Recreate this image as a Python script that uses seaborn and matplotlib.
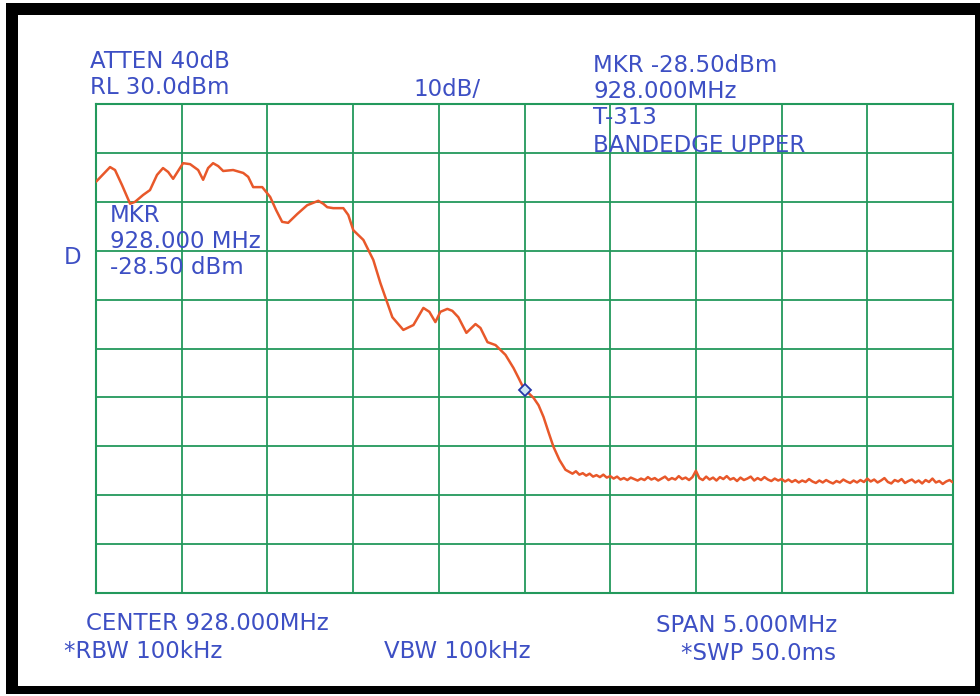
import numpy as np
import seaborn as sns
import matplotlib.pyplot as plt
from matplotlib.patches import Rectangle

# Spectrum analyzer plot: bandedge upper, T-313

# trace (MHz, dBm) - passband and skirt
trace_freq = [925.500, 925.582, 925.611, 925.652, 925.699, 925.728, 925.775, 925.815,
              925.856, 925.891, 925.921, 925.950, 925.979, 926.008, 926.049, 926.096,
              926.125, 926.154, 926.183, 926.213, 926.242, 926.300, 926.359, 926.388,
              926.417, 926.470, 926.516, 926.551, 926.586, 926.621, 926.674, 926.732,
              926.797, 926.826, 926.849, 926.884, 926.943, 926.972, 927.001, 927.060,
              927.118, 927.159, 927.200, 927.229, 927.293, 927.352, 927.410, 927.445,
              927.480, 927.509, 927.550, 927.579, 927.614, 927.661, 927.714, 927.743,
              927.784, 927.831, 927.889, 927.936, 927.965, 928.000, 928.023, 928.053,
              928.082, 928.111, 928.140, 928.169, 928.204, 928.239]
trace_dbm = [14.1, 17.1, 16.5, 13.4, 9.6, 10.0, 11.4, 12.4,
             15.5, 16.9, 16.1, 14.7, 16.3, 17.9, 17.7, 16.5,
             14.5, 16.9, 17.9, 17.3, 16.3, 16.5, 15.9, 15.1,
             13.0, 13.0, 11.0, 8.3, 5.9, 5.7, 7.5, 9.3,
             10.2, 9.6, 8.9, 8.7, 8.7, 7.3, 4.2, 2.2,
             -1.9, -6.6, -10.7, -13.6, -16.2, -15.2, -11.7, -12.5,
             -14.6, -12.5, -11.9, -12.3, -13.6, -16.8, -15.0, -15.8,
             -18.7, -19.3, -21.3, -24.0, -26.0, -28.5, -29.1, -30.1,
             -31.6, -34.0, -37.1, -40.1, -42.8, -44.8]

# noise floor, one reading every 0.02 MHz from 928.26 to 930.50
floor_start = 928.26
floor_step = 0.02
floor_dbm = [-45.2, -45.6, -45.1, -45.8, -45.5, -46.0, -45.6, -46.2, -45.9, -46.3, -45.8, -46.4, -46.1,
             -46.6, -46.2, -46.8, -46.5, -46.9, -46.4, -46.7, -47.0, -46.6, -46.9, -46.3, -46.8,
             -46.5, -47.0, -46.6, -46.2, -46.9, -46.5, -46.8, -46.1, -46.7, -46.4, -46.9, -46.3,
             -45.0,
             -46.5, -46.9, -46.2, -46.8, -46.4, -47.0, -46.3, -46.7, -46.1, -46.8, -46.5, -47.1,
             -46.4, -46.9, -46.6, -46.2, -47.0, -46.5, -46.9, -46.3, -46.8, -47.1, -46.6, -47.0, -46.7,
             -47.2, -46.8, -47.3, -46.9, -47.4, -47.0, -47.3, -46.7, -47.2, -47.5, -47.0, -47.4,
             -46.9, -47.3, -47.6, -47.1, -47.4, -46.8, -47.2, -47.5, -47.0, -47.4, -46.9, -47.3, -46.6,
             -47.2, -46.8, -47.4, -47.0, -46.5, -47.3, -47.6, -46.9, -47.2, -46.7, -47.5, -47.1,
             -46.8, -47.4, -47.0, -47.6, -46.9, -47.3, -46.6, -47.4, -47.1, -47.7, -47.2, -46.9, -47.4]

marker_freq = 928.000
marker_dbm = -28.50

center = 928.0
span = 5.0
ref_level = 30.0
db_per_div = 10.0

freq = trace_freq + [round(floor_start + i * floor_step, 3) for i in range(len(floor_dbm))]
level = trace_dbm + floor_dbm

GREEN = '#23995c'
TRACE = '#e8582a'
BLUE = '#3d4fc4'

sns.set_style("white")
plt.rcParams['font.family'] = ['DejaVu Sans']

fig = plt.figure(figsize=(9.8, 6.96), dpi=100)
W, H = 980.0, 696.0

# black frame of the scanned page
fig.add_artist(Rectangle((6 / W, 2 / H), 974 / W, 691 / H, transform=fig.transFigure,
                         facecolor='black', edgecolor='none', zorder=-3))
fig.add_artist(Rectangle((18 / W, 10 / H), 957 / W, 671 / H, transform=fig.transFigure,
                         facecolor='white', edgecolor='none', zorder=-2))

ax = fig.add_axes([96 / W, 103 / H, 857 / W, 489 / H])
ax.set_facecolor('white')

sns.lineplot(x=freq, y=level, ax=ax, color=TRACE, linewidth=1.8, sort=False,
             estimator=None, zorder=3)
ax.plot([marker_freq], [marker_dbm], marker='D', markersize=6, markerfacecolor='#cfe8f5',
        markeredgecolor='#2637a8', markeredgewidth=1.3, linestyle='none', zorder=4)

ax.set_xlim(center - span / 2, center + span / 2)
ax.set_ylim(ref_level - 10 * db_per_div, ref_level)
ax.set_xticks(np.arange(center - span / 2, center + span / 2 + 0.01, span / 10))
ax.set_yticks(np.arange(ref_level - 10 * db_per_div, ref_level + 0.1, db_per_div))
ax.set_xticklabels([])
ax.set_yticklabels([])
ax.tick_params(length=0)
ax.set_xlabel('')
ax.set_ylabel('')
ax.grid(True, color=GREEN, linewidth=1.3)
for s in ax.spines.values():
    s.set_color(GREEN)
    s.set_linewidth(1.5)
    s.set_visible(True)

# annotation text, left edge / middle in page pixels
def label(x, y, s):
    fig.text(x / W, 1 - y / H, s, color=BLUE, fontsize=16.5, ha='left', va='center')

label(90, 62, 'ATTEN 40dB')
label(90, 88, 'RL 30.0dBm')
label(413, 90, '10dB/')
label(593, 66, 'MKR -28.50dBm')
label(593, 91, '928.000MHz')
label(593, 118, 'T-313')
label(593, 145, 'BANDEDGE UPPER')
label(110, 216, 'MKR')
label(110, 241, '928.000 MHz')
label(110, 268, '-28.50 dBm')
label(64, 258, 'D')
label(86, 624, 'CENTER 928.000MHz')
label(64, 651, '*RBW 100kHz')
label(384, 651, 'VBW 100kHz')
label(656, 626, 'SPAN 5.000MHz')
label(681, 653, '*SWP 50.0ms')

fig.savefig('out.png', dpi=100, facecolor='white')
